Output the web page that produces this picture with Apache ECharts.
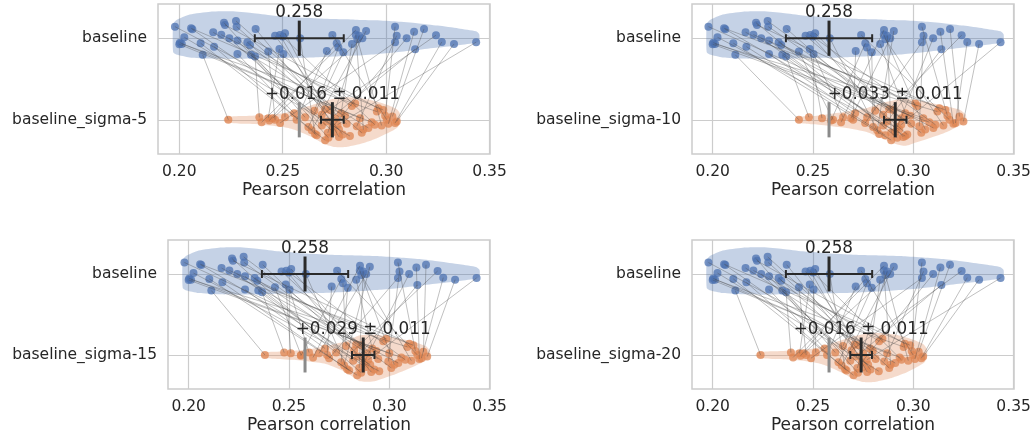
<!DOCTYPE html>
<html><head><meta charset="utf-8">
<script src="https://cdn.jsdelivr.net/npm/echarts@6/dist/echarts.min.js"></script>
<style>html,body{margin:0;padding:0;background:#fff}#c{width:1034px;height:436px}</style>
</head><body><div id="c"></div>
<script>
// ---------------- DATA ----------------
const rowLabels = ['baseline_sigma-5', 'baseline_sigma-10', 'baseline_sigma-15', 'baseline_sigma-20'];
const baseLabel = 'baseline';
const xTicks = [0.20, 0.25, 0.30, 0.35];
const xTitle = 'Pearson correlation';

const baselineValues = [0.1979,0.2000,0.2003,0.2012,0.2024,0.2057,0.2063,0.2103,0.2113,0.2164,
  0.2168,0.2203,0.2216,0.2221,0.2242,0.2274,0.2277,0.2281,0.2281,0.2329,
  0.2342,0.2347,0.2366,0.2369,0.2430,0.2463,0.2484,0.2487,0.2500,0.2503,
  0.2511,0.2584,0.2713,0.2740,0.2761,0.2769,0.2793,0.2835,0.2853,0.2854,
  0.2861,0.2870,0.2885,0.2903,0.3043,0.3043,0.3051,0.3099,0.3135,0.3140,
  0.3183,0.3241,0.3269,0.3328,0.3435];
const baselineJitter = [-0.142,0.074,0.054,0.070,-0.012,-0.122,-0.110,0.061,0.204,-0.073,
  0.103,-0.044,-0.191,-0.163,0.000,-0.212,-0.142,0.029,0.192,0.049,
  0.082,0.204,0.225,-0.114,0.164,-0.032,0.131,-0.040,-0.020,0.192,
  -0.061,0.000,0.155,-0.040,0.061,0.115,0.171,0.070,-0.044,-0.102,
  0.012,-0.032,0.000,-0.089,-0.142,0.049,-0.032,0.000,-0.081,0.135,
  -0.114,-0.037,0.045,0.070,0.049];

const sigma5Values = [0.2801,0.2930,0.2874,0.2955,0.2825,0.2986,0.2772,0.2705,0.2237,0.2914,
  0.2664,0.2850,0.2721,0.2962,0.2745,0.2882,0.2809,0.2689,0.2555,0.2753,
  0.2834,0.2608,0.2387,0.2790,0.2463,0.2729,0.2430,0.2772,0.2945,0.2511,
  0.2705,0.2656,0.2567,0.3003,0.2435,0.2653,0.2624,0.2782,0.2890,0.2398,
  0.2978,0.2718,0.2452,0.2640,0.2995,0.2487,0.2858,0.2740,0.3011,0.2713,
  0.3030,0.2689,0.3043,0.3051,0.2765];
const sigma10Values = [0.2985,0.3080,0.3050,0.3120,0.2960,0.3160,0.2930,0.2890,0.2430,0.3100,
  0.2860,0.3010,0.2920,0.3130,0.2910,0.3040,0.2990,0.2850,0.2710,0.2940,
  0.3020,0.2770,0.2480,0.2970,0.2600,0.2900,0.2545,0.2950,0.3110,0.2650,
  0.2880,0.2830,0.2700,0.3180,0.2590,0.2810,0.2800,0.2960,0.3060,0.2640,
  0.3150,0.2890,0.2690,0.2820,0.3170,0.2760,0.3030,0.2920,0.3200,0.2870,
  0.3230,0.2850,0.3210,0.3250,0.2940];
const sigma15Values = [0.2935,0.3060,0.3000,0.3090,0.2950,0.3120,0.2905,0.2840,0.2380,0.3045,
  0.2800,0.2985,0.2860,0.3100,0.2880,0.3010,0.2945,0.2820,0.2680,0.2890,
  0.2970,0.2735,0.2476,0.2925,0.2560,0.2860,0.2509,0.2910,0.3080,0.2600,
  0.2835,0.2790,0.2690,0.3140,0.2559,0.2785,0.2760,0.2915,0.3025,0.2620,
  0.3110,0.2850,0.2650,0.2775,0.3130,0.2700,0.2995,0.2875,0.3150,0.2845,
  0.3170,0.2825,0.3160,0.3189,0.2895];
const sigma20Values = [0.2798,0.2932,0.2870,0.2952,0.2828,0.2984,0.2775,0.2702,0.2239,0.2910,
  0.2667,0.2846,0.2724,0.2958,0.2748,0.2880,0.2812,0.2686,0.2558,0.2750,
  0.2830,0.2611,0.2390,0.2787,0.2466,0.2726,0.2433,0.2770,0.2941,0.2514,
  0.2708,0.2660,0.2570,0.2999,0.2438,0.2650,0.2627,0.2785,0.2887,0.2401,
  0.2975,0.2721,0.2455,0.2643,0.2992,0.2490,0.2855,0.2743,0.3008,0.2716,
  0.3027,0.2692,0.3040,0.3049,0.2768];
const sigmaJitter = [-0.05,0.03,-0.02,-0.10,0.20,-0.12,0.12,0.25,0.00,0.10,
  0.19,-0.20,0.22,-0.14,0.15,0.16,0.05,0.07,-0.08,-0.02,
  -0.17,-0.03,-0.03,0.18,0.00,-0.12,-0.02,0.21,0.06,-0.03,
  -0.13,0.175,0.00,0.00,0.01,-0.11,0.09,-0.08,0.12,0.03,
  0.07,0.16,-0.02,0.13,-0.05,0.04,0.08,0.09,0.05,0.02,
  -0.04,-0.06,0.04,0.02,0.06];

const baselineMean = 0.258;
const baselineErrBar = 0.0215;
const deltaMeans = [0.016, 0.033, 0.029, 0.016];
const deltaErrs = [0.011, 0.011, 0.011, 0.011];
const sigmaErrBar = [0.0055, 0.0056, 0.0056, 0.0054];

// violin outlines (x, upper offset, lower offset in row units)
const violinBaseX =   [0.1970,0.1985,0.2050,0.2150,0.2250,0.2350,0.2450,0.2550,0.2650,0.2750,0.2850,0.2950,0.3050,0.3150,0.3250,0.3350,0.3435,0.3450];
const violinBaseTop = [-0.17,-0.22,-0.29,-0.325,-0.33,-0.31,-0.28,-0.26,-0.245,-0.235,-0.228,-0.22,-0.205,-0.185,-0.155,-0.12,-0.085,-0.05];
const violinBaseBot = [0.17,0.20,0.235,0.25,0.255,0.25,0.245,0.24,0.235,0.225,0.213,0.195,0.172,0.145,0.115,0.085,0.055,0.03];

const violin5X =   [0.2215,0.2226,0.2302,0.2402,0.2503,0.2552,0.2603,0.2653,0.2703,0.2753,0.2803,0.2853,0.2903,0.2953,0.3003,0.3052,0.3068];
const violin5Top = [-0.01,-0.035,-0.045,-0.055,-0.08,-0.11,-0.15,-0.19,-0.23,-0.26,-0.275,-0.27,-0.255,-0.225,-0.185,-0.13,-0.07];
const violin5Bot = [0.01,0.035,0.05,0.06,0.09,0.12,0.17,0.23,0.30,0.335,0.335,0.31,0.275,0.23,0.17,0.10,0.04];

const violin10X =   [0.2410,0.2420,0.2450,0.2500,0.2585,0.2668,0.2768,0.2834,0.2917,0.2960,0.3000,0.3083,0.3167,0.3233,0.3262];
const violin10Top = [-0.01,-0.03,-0.04,-0.045,-0.07,-0.10,-0.145,-0.20,-0.245,-0.255,-0.25,-0.21,-0.165,-0.12,-0.06];
const violin10Bot = [0.01,0.03,0.045,0.055,0.075,0.10,0.15,0.22,0.30,0.32,0.29,0.225,0.15,0.07,0.03];

const violin15X =   [0.2360,0.2370,0.2420,0.2518,0.2600,0.2684,0.2783,0.2849,0.2900,0.2932,0.3015,0.3114,0.3181,0.3203];
const violin15Top = [-0.01,-0.03,-0.04,-0.05,-0.07,-0.11,-0.17,-0.24,-0.25,-0.25,-0.22,-0.17,-0.11,-0.05];
const violin15Bot = [0.01,0.03,0.045,0.06,0.08,0.11,0.21,0.32,0.33,0.32,0.25,0.15,0.07,0.02];

// ---------------- BUILD ----------------
const sigmaValues = [sigma5Values, sigma10Values, sigma15Values, sigma20Values];
const violins = [
  [violin5X, violin5Top, violin5Bot],
  [violin10X, violin10Top, violin10Bot],
  [violin15X, violin15Top, violin15Bot],
  [violin5X, violin5Top, violin5Bot]
];
const grids = [
  {left: 158, top: 4, width: 332, height: 150},
  {left: 692, top: 4, width: 322, height: 150},
  {left: 168, top: 240, width: 322, height: 149},
  {left: 692, top: 240, width: 322, height: 149}
];
const TXT = '#262626';
const FONT = 'DejaVu Sans';
const BLUE = '#4c72b0', ORANGE = '#dd8452';
const BLUE_FILL = 'rgba(76,114,176,0.32)', ORANGE_FILL = 'rgba(221,132,82,0.30)';
const DARK = '#2a2a2a', GREY = '#8a8a8a';
const HALF = 0.216;

function violinRender(xs, tops, bots, row, fill) {
  return function (params, api) {
    const pts = [];
    for (let i = 0; i < xs.length; i++) pts.push(api.coord([xs[i], row + tops[i]]));
    for (let i = xs.length - 1; i >= 0; i--) pts.push(api.coord([xs[i], row + bots[i]]));
    return {type: 'polygon', shape: {points: pts, smooth: 0.2}, style: {fill: fill}, silent: true};
  };
}

function crossRender(k) {
  return function (params, api) {
    const ch = [];
    const sMean = baselineMean + deltaMeans[k];
    function cross(mean, err, row, text) {
      const top = api.coord([mean, row - HALF]);
      const bot = api.coord([mean, row + HALF]);
      const l = api.coord([mean - err, row]);
      const r = api.coord([mean + err, row]);
      ch.push({type: 'line', shape: {x1: l[0], y1: l[1], x2: r[0], y2: r[1]}, style: {stroke: DARK, lineWidth: 2}});
      ch.push({type: 'line', shape: {x1: l[0], y1: l[1] - 4, x2: l[0], y2: l[1] + 4}, style: {stroke: DARK, lineWidth: 2}});
      ch.push({type: 'line', shape: {x1: r[0], y1: r[1] - 4, x2: r[0], y2: r[1] + 4}, style: {stroke: DARK, lineWidth: 2}});
      ch.push({type: 'line', shape: {x1: top[0], y1: top[1], x2: bot[0], y2: bot[1]}, style: {stroke: DARK, lineWidth: 3}});
      ch.push({type: 'text', x: top[0], y: top[1] - 8, style: {text: text, fill: TXT, font: '16.8px "' + FONT + '"', align: 'center', verticalAlign: 'middle'}});
    }
    const gt = api.coord([baselineMean, 1 - HALF]);
    const gb = api.coord([baselineMean, 1 + HALF]);
    ch.push({type: 'line', shape: {x1: gt[0], y1: gt[1], x2: gb[0], y2: gb[1]}, style: {stroke: GREY, lineWidth: 3}});
    cross(baselineMean, baselineErrBar, 0, baselineMean.toFixed(3));
    cross(sMean, sigmaErrBar[k], 1, '+' + deltaMeans[k].toFixed(3) + ' \u00b1 ' + deltaErrs[k].toFixed(3));
    return {type: 'group', children: ch};
  };
}

function linesRender(params, api) {
  const a = api.coord([api.value(0), api.value(1)]);
  const b = api.coord([api.value(2), api.value(3)]);
  return {type: 'line', shape: {x1: a[0], y1: a[1], x2: b[0], y2: b[1]}, style: {stroke: 'rgba(70,70,70,0.38)', lineWidth: 0.9}, silent: true};
}

const xAxes = [], yAxes = [], series = [];
grids.forEach(function (g, k) {
  xAxes.push({
    type: 'value', gridIndex: k, min: 0.1897, max: 0.3502,
    axisLine: {show: false}, axisTick: {show: false, customValues: xTicks},
    axisLabel: {customValues: xTicks, formatter: function (v) { return v.toFixed(2); }, color: TXT, fontFamily: FONT, fontSize: 15.5, margin: 10},
    splitLine: {show: true, lineStyle: {color: '#cccccc', width: 1.2}},
    name: xTitle, nameLocation: 'middle', nameGap: 28,
    nameTextStyle: {color: TXT, fontFamily: FONT, fontSize: 17}
  });
  yAxes.push({
    type: 'value', gridIndex: k, min: -0.42, max: 1.42, inverse: true,
    axisLine: {show: false}, axisTick: {show: false, customValues: [0, 1]},
    axisLabel: {customValues: [0, 1], formatter: function (v) { return v < 0.5 ? baseLabel : rowLabels[k]; }, color: TXT, fontFamily: FONT, fontSize: 15.5, margin: 11},
    splitLine: {show: true, lineStyle: {color: '#cccccc', width: 1.2}}
  });
  const vs = violins[k];
  series.push({type: 'custom', xAxisIndex: k, yAxisIndex: k, data: [[0.27, 0]], renderItem: violinRender(violinBaseX, violinBaseTop, violinBaseBot, 0, BLUE_FILL), silent: true, z: 1});
  series.push({type: 'custom', xAxisIndex: k, yAxisIndex: k, data: [[0.27, 1]], renderItem: violinRender(vs[0], vs[1], vs[2], 1, ORANGE_FILL), silent: true, z: 1});
  series.push({type: 'scatter', xAxisIndex: k, yAxisIndex: k, symbolSize: 8, silent: true, z: 2,
    itemStyle: {color: BLUE, opacity: 0.75},
    data: baselineValues.map(function (v, i) { return [v, baselineJitter[i]]; })});
  series.push({type: 'scatter', xAxisIndex: k, yAxisIndex: k, symbolSize: 8, silent: true, z: 2,
    itemStyle: {color: ORANGE, opacity: 0.75},
    data: sigmaValues[k].map(function (v, i) { return [v, 1 + sigmaJitter[i]]; })});
  series.push({type: 'custom', xAxisIndex: k, yAxisIndex: k, silent: true, z: 3, renderItem: linesRender,
    data: baselineValues.map(function (v, i) { return [v, baselineJitter[i], sigmaValues[k][i], 1 + sigmaJitter[i]]; })});
  series.push({type: 'custom', xAxisIndex: k, yAxisIndex: k, silent: true, z: 4, data: [[0.258, 0]], renderItem: crossRender(k)});
});

const chart = echarts.init(document.getElementById('c'), null, {renderer: 'canvas'});
chart.setOption({
  animation: false,
  backgroundColor: '#ffffff',
  grid: grids.map(function (g) { return Object.assign({show: true, borderColor: '#cccccc', borderWidth: 1.5, backgroundColor: 'transparent', containLabel: false, outerBoundsMode: 'none'}, g); }),
  xAxis: xAxes, yAxis: yAxes, series: series
});
</script></body></html>
